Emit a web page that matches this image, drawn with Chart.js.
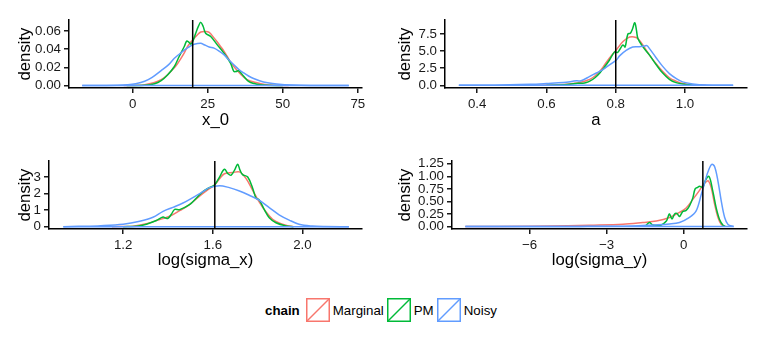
<!DOCTYPE html>
<html><head><meta charset="utf-8">
<script src="https://cdn.jsdelivr.net/npm/chart.js@4.4.1/dist/chart.umd.min.js"></script>
<style>
body{margin:0;background:#fff;width:767px;height:338px;overflow:hidden;position:relative;font-family:"Liberation Sans",Arial,sans-serif;}
.p{position:absolute;}
#legend{position:absolute;left:265px;top:298px;height:24px;display:flex;align-items:center;font-size:13.3px;color:#000;white-space:nowrap;}
#legend b{margin-right:6px;}
#legend svg{display:block;margin-right:3px;}
#legend span.t{margin-right:3px;}
</style></head><body>
<div class="p" style="left:0;top:0"><canvas id="c1" width="380" height="140"></canvas></div>
<div class="p" style="left:380px;top:0"><canvas id="c2" width="387" height="140"></canvas></div>
<div class="p" style="left:0;top:140px"><canvas id="c3" width="380" height="140"></canvas></div>
<div class="p" style="left:380px;top:140px"><canvas id="c4" width="387" height="140"></canvas></div>
<div id="legend"></div>
<script>
const chains = ['Marginal', 'PM', 'Noisy'];
const chainColors = ['#F8766D', '#00BA38', '#619CFF'];

// ---- panel 1: x_0 ----
const x0Marginal = [[-3,0],[2,0.0003],[4,0.001],[7,0.003],[9.5,0.0065],[11,0.010],[12.8,0.0157],[14.5,0.022],[16.1,0.030],[17.2,0.036],[18.3,0.043],[19.4,0.048],[20.5,0.052],[21.6,0.056],[22.7,0.059],[24.3,0.0595],[25.5,0.0585],[27.1,0.0525],[28.2,0.048],[29.3,0.043],[30.4,0.038],[31.5,0.032],[32.6,0.026],[33.7,0.021],[35.9,0.0128],[38.1,0.0066],[41.4,0.003],[44,0.0012],[47,0.0004],[52,0]];
const x0PM = [[-2,0],[4,0.0003],[7.3,0.002],[9.5,0.0055],[11.7,0.012],[13.9,0.021],[15.5,0.032],[17.2,0.043],[18,0.049],[18.8,0.0475],[19.4,0.0456],[20.2,0.050],[21,0.0576],[22,0.066],[22.7,0.0696],[23.5,0.065],[24.3,0.0576],[26,0.054],[28.2,0.0448],[30.4,0.0357],[32.6,0.0248],[33.7,0.0157],[34.5,0.0155],[35.3,0.0164],[37,0.0102],[38.6,0.0047],[40.5,0.0022],[42.5,0.001],[46.9,0.0001],[50,0]];
const x0Noisy = [[-16.8,0],[-10,0.00005],[-5,0.0002],[-1.6,0.0008],[1,0.002],[4,0.0047],[6.5,0.009],[9.5,0.0164],[12,0.023],[13.9,0.030],[15.5,0.0345],[17.2,0.039],[19,0.043],[20.5,0.0455],[22.7,0.0467],[23.8,0.045],[25.5,0.0425],[27.1,0.0412],[28.8,0.038],[30.4,0.034],[32,0.0285],[33.7,0.023],[35.3,0.018],[37,0.0139],[38.6,0.0105],[40.3,0.0077],[43.6,0.004],[48,0.0018],[53.5,0.0005],[60,0.0001],[72,0]];
const x0XTicks = [0, 25, 50, 75];
const x0XLabels = ['0', '25', '50', '75'];
const x0YTicks = [0, 0.02, 0.04, 0.06];
const x0YLabels = ['0.00', '0.02', '0.04', '0.06'];
const x0True = 20;

// ---- panel 2: a ----
const aMarginal = [[0.55,0],[0.62,0.03],[0.649,0.1],[0.675,0.25],[0.696,0.4],[0.725,0.86],[0.74,1.35],[0.754,2.05],[0.768,3.0],[0.782,4.0],[0.802,5.2],[0.821,6.4],[0.84,7.05],[0.859,7.0],[0.868,6.6],[0.878,5.9],[0.897,4.45],[0.917,3.1],[0.935,2.05],[0.955,1.1],[0.974,0.6],[0.993,0.25],[1.02,0.05],[1.06,0]];
const aPM = [[0.6,0],[0.64,0.03],[0.668,0.15],[0.69,0.3],[0.705,0.3],[0.715,0.4],[0.725,0.6],[0.74,1.1],[0.754,1.8],[0.768,2.7],[0.782,3.7],[0.797,4.9],[0.805,4.8],[0.811,5.2],[0.821,5.9],[0.827,5.6],[0.835,7.5],[0.842,7.6],[0.848,8.2],[0.855,9.15],[0.86,8.0],[0.864,6.85],[0.878,5.65],[0.897,4.45],[0.917,3.0],[0.935,1.82],[0.955,0.86],[0.974,0.39],[1.003,0.1],[1.03,0.01],[1.05,0]];
const aNoisy = [[0.347,0],[0.45,0.01],[0.553,0.14],[0.6,0.25],[0.649,0.39],[0.687,0.65],[0.7,0.65],[0.725,1.3],[0.744,1.8],[0.763,2.3],[0.782,3.0],[0.802,3.7],[0.811,4.3],[0.83,5.1],[0.849,5.6],[0.868,5.65],[0.883,5.75],[0.89,5.8],[0.897,5.4],[0.917,4.0],[0.935,2.8],[0.955,1.7],[0.974,1.0],[0.993,0.5],[1.022,0.2],[1.06,0.03],[1.139,0]];
const aXTicks = [0.4, 0.6, 0.8, 1.0];
const aXLabels = ['0.4', '0.6', '0.8', '1.0'];
const aYTicks = [0, 2.5, 5, 7.5];
const aYLabels = ['0.0', '2.5', '5.0', '7.5'];
const aTrue = 0.8;

// ---- panel 3: log(sigma_x) ----
const sxMarginal = [[1.15,0],[1.244,0.03],[1.304,0.18],[1.363,0.43],[1.408,0.63],[1.452,0.97],[1.496,1.33],[1.541,1.85],[1.585,2.3],[1.608,2.52],[1.63,2.9],[1.652,3.2],[1.689,3.27],[1.719,3.31],[1.748,2.92],[1.778,2.2],[1.807,1.5],[1.837,0.9],[1.867,0.45],[1.896,0.22],[1.93,0.07],[1.96,0]];
const sxPM = [[1.2,0],[1.26,0.03],[1.304,0.15],[1.348,0.37],[1.378,0.58],[1.39,0.52],[1.4,0.5],[1.415,0.75],[1.43,1.05],[1.452,1.03],[1.496,1.33],[1.526,1.72],[1.556,2.12],[1.585,2.36],[1.608,2.52],[1.63,3.0],[1.652,3.47],[1.668,3.2],[1.682,3.11],[1.7,3.5],[1.711,3.78],[1.722,3.4],[1.733,3.15],[1.756,3.0],[1.778,2.32],[1.793,1.73],[1.807,1.62],[1.83,1.03],[1.852,0.54],[1.882,0.24],[1.926,0.05],[1.96,0]];
const sxNoisy = [[0.933,0],[1.0,0.02],[1.1,0.06],[1.2,0.15],[1.274,0.33],[1.333,0.57],[1.378,0.93],[1.422,1.17],[1.467,1.43],[1.511,1.76],[1.556,2.12],[1.585,2.36],[1.63,2.48],[1.674,2.36],[1.719,2.16],[1.763,1.9],[1.807,1.6],[1.852,1.15],[1.896,0.72],[1.941,0.4],[1.985,0.15],[2.044,0.04],[2.1,0.01],[2.2075,0]];
const sxXTicks = [1.2, 1.6, 2.0];
const sxXLabels = ['1.2', '1.6', '2.0'];
const sxYTicks = [0, 1, 2, 3];
const sxYLabels = ['0', '1', '2', '3'];
const sxTrue = 1.609;

// ---- panel 4: log(sigma_y) ----
const syMarginal = [[-8.5,0],[-6,0.005],[-4.5,0.015],[-3.66,0.025],[-2.36,0.045],[-1.59,0.08],[-1.06,0.11],[-0.55,0.18],[-0.16,0.28],[0.1,0.37],[0.36,0.54],[0.62,0.72],[0.75,0.82],[0.9,0.9],[0.98,0.9],[1.08,0.77],[1.21,0.44],[1.34,0.18],[1.47,0.04],[1.6,0]];
const syPM = [[-1.5,0],[-1.39,0.06],[-1.32,0.08],[-1.2,0.03],[-1.0,0.02],[-0.87,0.03],[-0.67,0.11],[-0.6,0.2],[-0.55,0.25],[-0.45,0.15],[-0.35,0.25],[-0.26,0.26],[-0.16,0.2],[-0.03,0.3],[0.1,0.32],[0.23,0.41],[0.36,0.57],[0.45,0.75],[0.55,0.78],[0.62,0.8],[0.75,0.78],[0.85,0.92],[0.99,1.0],[1.14,0.7],[1.27,0.37],[1.4,0.14],[1.53,0.03],[1.62,0]];
const syNoisy = [[-8.5,0],[-4,0.002],[-2,0.01],[-1.2,0.03],[-0.55,0.05],[-0.16,0.08],[0.23,0.18],[0.49,0.31],[0.69,0.64],[0.82,0.87],[0.95,1.09],[1.1,1.24],[1.21,1.19],[1.34,0.9],[1.47,0.5],[1.6,0.18],[1.73,0.04],[1.95,0]];
const syXTicks = [-6, -3, 0];
const syXLabels = ['\u22126', '\u22123', '0'];
const syYTicks = [0, 0.25, 0.5, 0.75, 1.0, 1.25];
const syYLabels = ['0.00', '0.25', '0.50', '0.75', '1.00', '1.25'];
const syTrue = 0.75;

const FONT = '"Liberation Sans", Arial, sans-serif';
const TICK_COLOR = '#1a1a1a';

const panels = [
  {id:'c1', title:'x_0', series:[x0Marginal,x0PM,x0Noisy], xt:x0XTicks, xl:x0XLabels, yt:x0YTicks, yl:x0YLabels, vline:x0True,
   xmin:-21.2, xmax:76.4, ymin:-0.0027, ymax:0.0722, w:380, h:140, area:{left:69,right:362,top:20,bottom:88}},
  {id:'c2', title:'a', series:[aMarginal,aPM,aNoisy], xt:aXTicks, xl:aXLabels, yt:aYTicks, yl:aYLabels, vline:aTrue,
   xmin:0.307, xmax:1.179, ymin:-0.4, ymax:9.55, w:387, h:140, area:{left:65,right:367,top:20,bottom:88}},
  {id:'c3', title:'log(sigma_x)', series:[sxMarginal,sxPM,sxNoisy], xt:sxXTicks, xl:sxXLabels, yt:sxYTicks, yl:sxYLabels, vline:sxTrue,
   xmin:0.869, xmax:2.266, ymin:-0.14, ymax:3.97, w:380, h:140, area:{left:49,right:362,top:21,bottom:89}},
  {id:'c4', title:'log(sigma_y)', series:[syMarginal,syPM,syNoisy], xt:syXTicks, xl:syXLabels, yt:syYTicks, yl:syYLabels, vline:syTrue,
   xmin:-9.02, xmax:2.47, ymin:-0.05, ymax:1.305, w:387, h:140, area:{left:72,right:367,top:21,bottom:89}}
];

const vlinePlugin = {
  id: 'vline',
  afterDatasetsDraw(chart, args, opts) {
    const x = chart.scales.x.getPixelForValue(opts.value);
    const {top, bottom} = chart.chartArea;
    const ctx = chart.ctx;
    ctx.save();
    ctx.strokeStyle = '#000';
    ctx.lineWidth = 1.5;
    ctx.beginPath();
    ctx.moveTo(x, top);
    ctx.lineTo(x, bottom);
    ctx.stroke();
    ctx.restore();
  }
};

function makeChart(p) {
  const datasets = [];
  // Noisy drawn last (on top), like the reference; its baseline spans the full range
  p.series.forEach((pts, i) => {
    const col = chainColors[i];
    const ord = 3 - i;
    datasets.push({label: chains[i], data: pts.map(([x, y]) => ({x, y})), borderColor: col, borderWidth: 1.5,
      pointRadius: 0, tension: 0.35, fill: false, order: ord});
    if (chains[i] === 'Noisy') {
      datasets.push({label: chains[i] + ' baseline', data: [{x: pts[0][0], y: 0}, {x: pts[pts.length - 1][0], y: 0}],
        borderColor: col, borderWidth: 1.5, pointRadius: 0, tension: 0, fill: false, order: 0});
    }
  });
  new Chart(document.getElementById(p.id), {
    type: 'line',
    data: {datasets},
    options: {
      responsive: false, animation: false, devicePixelRatio: 1,
      layout: {padding: {left: 0, top: p.area.top, right: p.w - p.area.right, bottom: 0}},
      plugins: {legend: {display: false}, tooltip: {enabled: false}, vline: {value: p.vline}},
      scales: {
        x: {
          type: 'linear', min: p.xmin, max: p.xmax,
          afterBuildTicks: s => { s.ticks = p.xt.map(v => ({value: v})); },
          afterFit: s => { s.height = p.h - p.area.bottom; },
          grid: {display: true, drawOnChartArea: false, drawTicks: true, tickLength: 5, color: TICK_COLOR, lineWidth: 1.5},
          border: {display: true, color: '#000', width: 1.5},
          ticks: {autoSkip: false, maxRotation: 0, minRotation: 0, padding: 3, color: TICK_COLOR,
            font: {size: 13.3, family: FONT}, callback: (v, i) => p.xl[i]},
          title: {display: true, text: p.title, color: '#000', font: {size: 16.7, family: FONT}, padding: {top: 0, bottom: 10}}
        },
        y: {
          type: 'linear', min: p.ymin, max: p.ymax,
          afterBuildTicks: s => { s.ticks = p.yt.map(v => ({value: v})); },
          afterFit: s => { s.width = p.area.left; },
          grid: {display: true, drawOnChartArea: false, drawTicks: true, tickLength: 5, color: TICK_COLOR, lineWidth: 1.5},
          border: {display: true, color: '#000', width: 1.5},
          ticks: {autoSkip: false, padding: 3, color: TICK_COLOR, font: {size: 13.3, family: FONT}, callback: (v, i) => p.yl[i]},
          title: {display: true, text: 'density', color: '#000', font: {size: 16.7, family: FONT}, padding: {top: 15.5, bottom: 0}}
        }
      }
    },
    plugins: [vlinePlugin]
  });
}
panels.forEach(makeChart);

// legend
const leg = document.getElementById('legend');
let html = '<b>chain</b>';
chains.forEach((c, i) => {
  const col = chainColors[i];
  html += '<svg width="24" height="24" viewBox="0 0 24 24"><rect x="0.75" y="0.75" width="22.5" height="22.5" fill="none" stroke="' + col +
    '" stroke-width="1.5"/><line x1="0.75" y1="23.25" x2="23.25" y2="0.75" stroke="' + col + '" stroke-width="1.5"/></svg>' +
    '<span class="t">' + c + '</span>';
});
leg.innerHTML = html;
</script>
</body></html>
